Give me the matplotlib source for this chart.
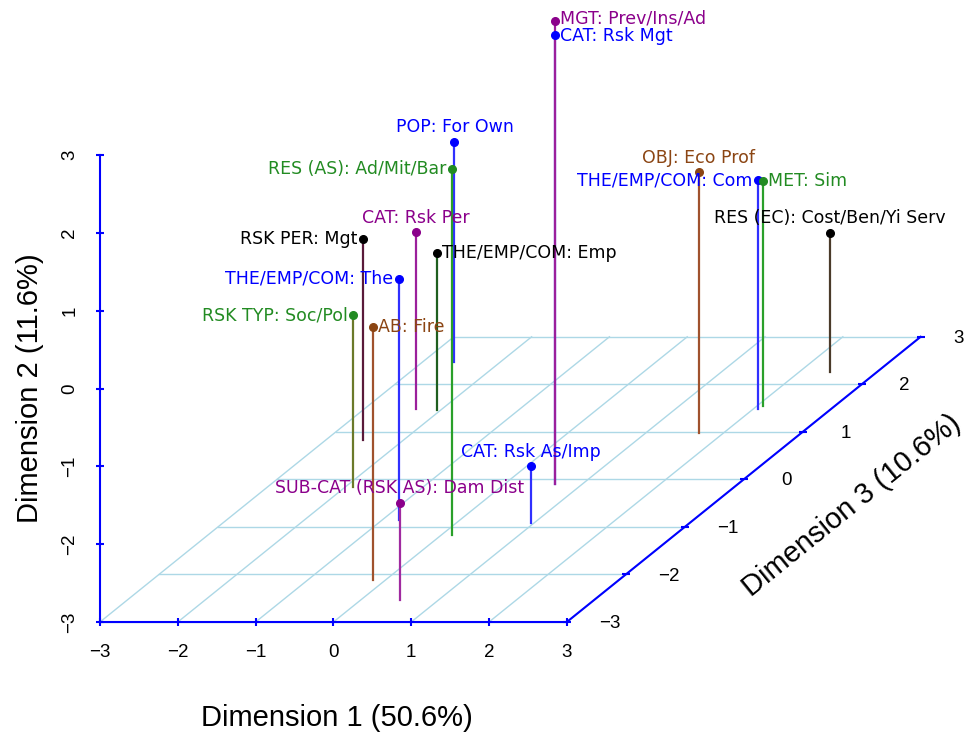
import matplotlib
matplotlib.use("Agg")
import matplotlib.pyplot as plt
import numpy as np

# MCA coordinates (Dim 1, Dim 2, Dim 3)
labels = ["MGT: Prev/Ins/Ad", "CAT: Rsk Mgt", "POP: For Own", "RES (AS): Ad/Mit/Bar",
          "CAT: Rsk Per", "RSK PER: Mgt", "THE/EMP/COM: Emp", "THE/EMP/COM: The",
          "RSK TYP: Soc/Pol", "AB: Fire", "CAT: Rsk As/Imp", "SUB-CAT (RSK AS): Dam Dist",
          "OBJ: Eco Prof", "THE/EMP/COM: Com", "MET: Sim", "RES (EC): Cost/Ben/Yi Serv"]
dim1 = [0.645, 0.645, -2.59, 0.14, -2.33, -2.52, -2.05, -0.79,
        -1.90, -0.16, 0.96, 0.505, 1.68, 2.06, 2.07, 2.39]
dim2 = [2.95, 2.77, -0.17, 1.70, -0.73, -0.42, -0.98, 0.10,
        -0.79, 0.25, -2.27, -1.75, 0.35, -0.06, -0.11, -1.21]
dim3 = [-0.095, -0.095, 2.47, -1.17, 1.48, 0.83, 1.46, -0.85,
        -0.16, -2.12, -0.92, -2.54, 0.98, 1.48, 1.55, 2.26]
groups = ["purple", "blue", "blue", "green", "purple", "black", "black", "blue",
          "green", "brown", "blue", "purple", "brown", "blue", "green", "black"]
ticks = [-3, -2, -1, 0, 1, 2, 3]

# styling
pal = {"blue": "#0000FF", "purple": "#8B008B", "green": "#228B22",
       "brown": "#8B4513", "black": "#000000"}
line_cols = ["#9B1F9B", "#3030FF", "#3030FF", "#2AA02A", "#9B1F9B", "#5A1A3A", "#1F5F1F",
             "#3030FF", "#6B7A2A", "#A0522D", "#3030FF", "#A02AA0", "#A0522D", "#3030FF",
             "#2AA02A", "#4A3A2A"]
label_pos = ["right", "right", "above", "left", "above", "left", "right", "left",
             "left", "right", "above", "above", "above", "left", "right", "above"]

lo, hi = -3, 3
CX, CZ = 0.758, 0.611   # receding Dimension 3 axis (about 40 degrees)


def proj(x, y, z):
    x, y, z = np.asarray(x, float), np.asarray(y, float), np.asarray(z, float)
    return x + CX * (y - lo), z + CZ * (y - lo)


fig = plt.figure(figsize=(9.66, 7.36), dpi=100)
ax = fig.add_axes([0, 0, 1, 1])
ax.set_xlim(-4.285, 8.131)
ax.set_ylim(-4.465, 4.995)
ax.axis("off")

grid_col = "#ADD8E6"
for t in ticks:
    gx, gy = proj([lo, hi], [t, t], [lo, lo])
    ax.plot(gx, gy, color=grid_col, lw=1.0, zorder=1)
    gx, gy = proj([t, t], [lo, hi], [lo, lo])
    ax.plot(gx, gy, color=grid_col, lw=1.0, zorder=1)

# axes
axis_col = "#0000FF"
for a, b in [((lo, lo, lo), (hi, lo, lo)), ((hi, lo, lo), (hi, hi, lo)), ((lo, lo, lo), (lo, lo, hi))]:
    px, py = proj(*zip(a, b))
    ax.plot(px, py, color=axis_col, lw=1.5, zorder=2)

tfont = dict(family="Liberation Sans", fontsize=13.5)
tk = np.array(ticks, float)
px, py = proj(tk, np.full(7, lo), np.full(7, lo))
ax.plot(px, py, ls="none", marker="|", ms=6, mew=1.5, color=axis_col, zorder=2)
for t, x0, y0 in zip(ticks, px, py):
    ax.text(x0, y0 - 0.39, str(t).replace("-", "\u2212"), ha="center", va="center", **tfont)

px, py = proj(np.full(7, lo), np.full(7, lo), tk)
ax.plot(px, py, ls="none", marker="_", ms=6, mew=1.5, color=axis_col, zorder=2)
for t, x0, y0 in zip(ticks, px, py):
    ax.text(x0 - 0.39, y0, str(t).replace("-", "\u2212"), ha="center", va="center", rotation=90, **tfont)

px, py = proj(np.full(7, hi), tk, np.full(7, lo))
ax.plot(px, py, ls="none", marker="_", ms=6, mew=1.5, color=axis_col, zorder=2)
for t, x0, y0 in zip(ticks, px, py):
    dx = 0.55 if t < hi else 0.49
    ax.text(x0 + dx, y0 - 0.02, str(t).replace("-", "\u2212"), ha="center", va="center", **tfont)

afont = dict(family="Liberation Sans", fontsize=21)
ax.text(0.05, -4.24, "Dimension 1 (50.6%)", ha="center", va="center", **afont)
ax.text(-3.9, 0.0, "Dimension 2 (11.6%)", ha="center", va="center", rotation=90, **afont)
mx, my = proj(hi, 0, lo)
ax.text(mx + 1.39, my - 0.34, "Dimension 3 (10.6%)", ha="center", va="center", rotation=39, **afont)

# drop lines, points, labels
fx, fy = proj(dim1, dim3, np.full(len(dim1), lo))
sx, sy = proj(dim1, dim3, dim2)
for i in range(len(labels)):
    z = 3.5 if i == 0 else 3
    ax.plot([fx[i], fx[i]], [fy[i], sy[i]], color=line_cols[i], lw=1.6, zorder=z)
for i in range(len(labels)):
    ax.plot(sx[i], sy[i], "o", ms=5.5, color=pal[groups[i]], zorder=4)
    if label_pos[i] == "right":
        off, ha, va = (4, 0), "left", "center"
    elif label_pos[i] == "left":
        off, ha, va = (-4, 0), "right", "center"
    else:
        off, ha, va = (0, 4), "center", "bottom"
    if i == 0:
        off = (4, 1.5)
    elif i == 1:
        off = (4, -0.5)
    ax.annotate(labels[i], (sx[i], sy[i]), xytext=off, textcoords="offset points",
                ha=ha, va=va, color=pal[groups[i]], fontsize=12.5,
                family="DejaVu Sans", zorder=5)

fig.savefig("out.png", dpi=100)
